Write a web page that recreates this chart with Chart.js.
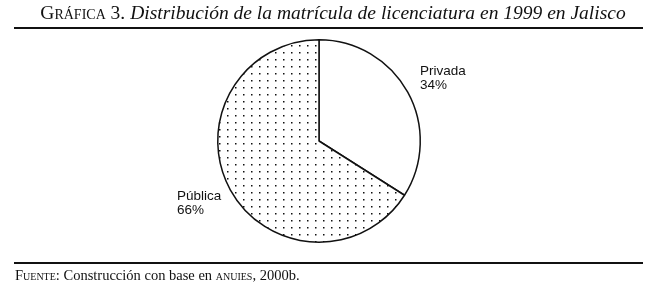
<!DOCTYPE html>
<html><head><meta charset="utf-8">
<script src="https://cdn.jsdelivr.net/npm/chart.js@4/dist/chart.umd.min.js"></script>
<style>
html,body{margin:0;padding:0;background:#fff;width:666px;height:293px;overflow:hidden;}
#wrap{position:absolute;left:0;top:0;width:666px;height:293px;}
#title{position:absolute;left:0;width:666px;top:2px;text-align:center;font-family:"Liberation Serif",serif;font-size:19.5px;color:#111;white-space:nowrap;}
#title .sc{font-variant:small-caps;font-style:normal;}
#title i{font-style:italic;}
.rule{position:absolute;left:14px;width:629px;height:2px;background:#111;}
#foot{position:absolute;left:15px;top:267px;font-family:"Liberation Serif",serif;font-size:14.5px;color:#111;white-space:nowrap;}
#foot .sc{font-variant:small-caps;}
</style></head>
<body>
<div id="wrap"><canvas id="c" width="666" height="293"></canvas></div>
<div id="title"><span class="sc">Gráfica 3.</span> <i>Distribución de la matrícula de licenciatura en 1999 en Jalisco</i></div>
<div class="rule" style="top:27px"></div>
<div class="rule" style="top:262px"></div>
<div id="foot"><span class="sc">Fuente</span>: Construcción con base en <span class="sc">anuies</span>, 2000b.</div>
<script>
const categories = ['Privada', 'Pública'];
const shares = [34, 66];
const shareLabels = ['34%', '66%'];

function dotPattern(){
  const p = document.createElement('canvas');
  p.width = 8; p.height = 7;
  const g = p.getContext('2d');
  g.fillStyle = '#fff'; g.fillRect(0,0,8,7);
  g.fillStyle = '#111'; g.fillRect(3,3,1.5,1.5);
  return document.getElementById('c').getContext('2d').createPattern(p,'repeat');
}

const labelPlugin = {
  id:'outLabels',
  afterDatasetsDraw(chart){
    const ctx = chart.ctx;
    const arcs = chart.getDatasetMeta(0).data;
    const offs = [[101,-76],[-142,49]];
    ctx.save();
    ctx.fillStyle = '#111';
    ctx.font = '13.5px "Liberation Sans", Arial, sans-serif';
    ctx.textBaseline = 'top';
    arcs.forEach((a,i)=>{
      const x = a.x + offs[i][0], y = a.y + offs[i][1];
      ctx.fillText(categories[i], x, y);
      ctx.fillText(shareLabels[i], x, y + 14);
    });
    ctx.restore();
  }
};

new Chart(document.getElementById('c'), {
  type:'pie',
  data:{labels:categories, datasets:[{data:shares, backgroundColor:['#ffffff', dotPattern()], borderColor:'#111', borderWidth:1.5, hoverOffset:0}]},
  options:{
    responsive:false, animation:false,
    layout:{padding:{left:217,right:245,top:39,bottom:50}},
    plugins:{legend:{display:false},tooltip:{enabled:false},title:{display:false}}
  },
  plugins:[labelPlugin]
});
</script>
</body></html>
